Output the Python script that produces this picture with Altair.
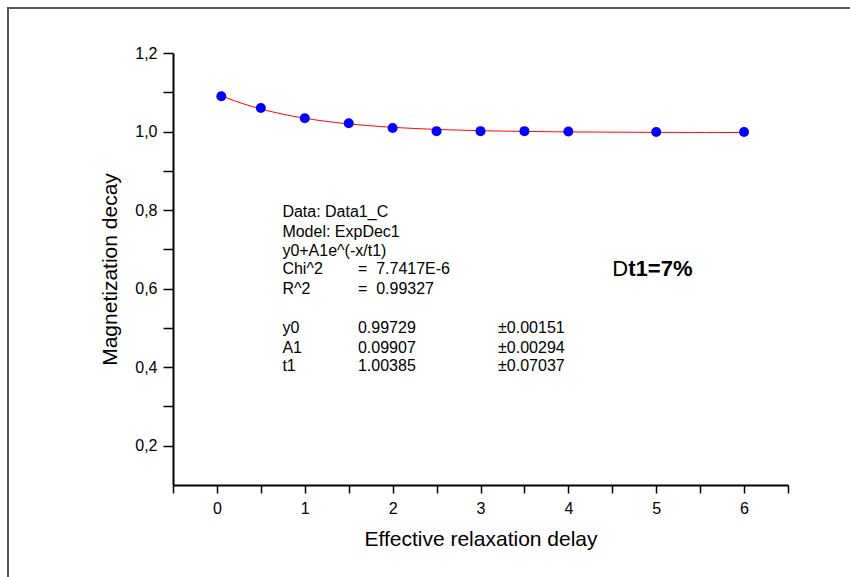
import altair as alt
import pandas as pd

# ---- data ----
delay = [0.05, 0.5, 1.0, 1.5, 2.0, 2.5, 3.0, 3.5, 4.0, 5.0, 6.0]
magnetization = [1.090, 1.060, 1.034, 1.021, 1.009, 1.001, 1.001, 1.001, 1.000, 0.999, 0.999]

# fit parameters shown in the chart (ExpDec1: y0 + A1*exp(-x/t1))
fit_y0 = 0.99729
fit_A1 = 0.09907
fit_t1 = 1.00385
fit_x_start = 0.05
fit_x_end = 6.0

x_ticks = [-0.5, 0, 0.5, 1, 1.5, 2, 2.5, 3, 3.5, 4, 4.5, 5, 5.5, 6, 6.5]
y_ticks = [0.2, 0.3, 0.4, 0.5, 0.6, 0.7, 0.8, 0.9, 1.0, 1.1, 1.2]

col1_text = ["Data: Data1_C", "Model: ExpDec1", "y0+A1e^(-x/t1)", "Chi^2", "R^2", "y0", "A1", "t1"]
col2_text = ["=\u00a0 7.7417E-6", "=\u00a0 0.99327", "0.99729", "0.09907", "1.00385"]
col3_text = ["\u00b10.00151", "\u00b10.00294", "\u00b10.07037"]

# ---- annotation placement (data coordinates) ----
row_y = [0.794, 0.745, 0.697, 0.649, 0.598, 0.499, 0.450, 0.402]
col_x = [0.745, 1.605, 3.20]
delta_x = 4.5

FONT = "Liberation Sans"

points_df = pd.DataFrame({"delay": delay, "m": magnetization})

x_scale = alt.Scale(domain=[-0.5, 6.5], nice=False, zero=False)
y_scale = alt.Scale(domain=[0.1, 1.2], nice=False, zero=False)

x_axis = alt.Axis(
    title="Effective relaxation delay",
    values=x_ticks,
    labelExpr="datum.value >= 0 && datum.value % 1 == 0 ? format(datum.value, 'd') : ''",
    grid=False, tickSize=8, tickWidth=1.5, tickColor="black",
    domainColor="black", domainWidth=2,
    labelFont=FONT, labelFontSize=16, labelColor="black", labelPadding=7,
    labelFlush=False, labelOverlap=False,
    titleFont=FONT, titleFontSize=21, titleFontWeight="normal", titleColor="black",
    titlePadding=12,
)
y_axis = alt.Axis(
    title="Magnetization decay",
    values=y_ticks,
    labelExpr="round(datum.value * 10) % 2 == 0 ? replace(format(datum.value, '.1f'), '.', ',') : ''",
    grid=False, tickSize=10, tickWidth=1.5, tickColor="black",
    domainColor="black", domainWidth=2,
    labelFont=FONT, labelFontSize=16, labelColor="black", labelPadding=6,
    labelFlush=False, labelOverlap=False,
    titleFont=FONT, titleFontSize=21, titleFontWeight="normal", titleColor="black",
    titlePadding=14,
)

base_x = alt.X("delay:Q", scale=x_scale, axis=x_axis)
base_y = alt.Y("m:Q", scale=y_scale, axis=y_axis)

fit_line = (
    alt.Chart(alt.sequence(fit_x_start, fit_x_end + 0.001, 0.05, as_="delay"))
    .transform_calculate(m=f"{fit_y0} + {fit_A1} * exp(-datum.delay / {fit_t1})")
    .mark_line(color="#ff0000", strokeWidth=1)
    .encode(x=base_x, y=base_y)
)

points = (
    alt.Chart(points_df)
    .mark_point(filled=True, color="#0000ff", size=100, opacity=1)
    .encode(x=base_x, y=base_y)
)

rows = []
for t, yv in zip(col1_text, row_y):
    rows.append({"text": t, "delay": col_x[0], "m": yv})
for t, yv in zip(col2_text, row_y[3:]):
    rows.append({"text": t, "delay": col_x[1], "m": yv})
for t, yv in zip(col3_text, row_y[5:]):
    rows.append({"text": t, "delay": col_x[2], "m": yv})
ann_df = pd.DataFrame(rows)

annotations = (
    alt.Chart(ann_df)
    .mark_text(align="left", baseline="middle", font=FONT, fontSize=16, color="black")
    .encode(x=alt.X("delay:Q", scale=x_scale), y=alt.Y("m:Q", scale=y_scale), text="text:N")
)

delta_d = (
    alt.Chart(pd.DataFrame({"text": ["D"], "delay": [delta_x], "m": [row_y[3]]}))
    .mark_text(align="left", baseline="middle", font=FONT, fontSize=22, color="black")
    .encode(x=alt.X("delay:Q", scale=x_scale), y=alt.Y("m:Q", scale=y_scale), text="text:N")
)
delta_rest = (
    alt.Chart(pd.DataFrame({"text": ["t1=7%"], "delay": [delta_x], "m": [row_y[3]]}))
    .mark_text(align="left", baseline="middle", font=FONT, fontSize=22, fontWeight="bold",
               color="black", dx=16)
    .encode(x=alt.X("delay:Q", scale=x_scale), y=alt.Y("m:Q", scale=y_scale), text="text:N")
)

# decorative page frame (left and top edges)
frame_left = alt.Chart(pd.DataFrame({"a": [0]})).mark_rule(color="#555555", strokeWidth=2).encode(
    x=alt.value(-165), y=alt.value(-45), y2=alt.value(530)
)
frame_top = alt.Chart(pd.DataFrame({"a": [0]})).mark_rule(color="#555555", strokeWidth=2).encode(
    x=alt.value(-166), x2=alt.value(680), y=alt.value(-45)
)

chart = (
    alt.layer(frame_left, frame_top, fit_line, points, annotations, delta_d, delta_rest)
    .properties(
        width=615, height=432,
        autosize=alt.AutoSizeParams(type="none"),
        padding={"left": 173, "top": 53, "right": 62, "bottom": 92},
        background="white",
    )
    .configure_view(stroke=None)
)

chart.save("out.html", embed_options={"renderer": "svg", "actions": False})
